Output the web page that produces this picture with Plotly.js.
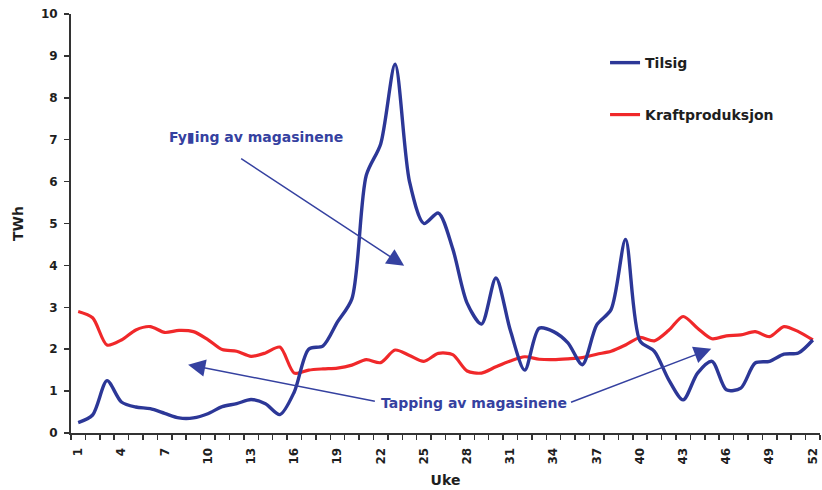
<!DOCTYPE html>
<html>
<head>
<meta charset="utf-8">
<script src="https://cdn.plot.ly/plotly-3.0.1.min.js"></script>
<style>html,body{margin:0;padding:0;background:#fff;}</style>
</head>
<body>
<div id="chart" style="width:822px;height:490px;"></div>
<script>
// Weeks (Uke)
const weeks = [1,2,3,4,5,6,7,8,9,10,11,12,13,14,15,16,17,18,19,20,21,22,23,24,25,26,
               27,28,29,30,31,32,33,34,35,36,37,38,39,40,41,42,43,44,45,46,47,48,49,50,51,52];
// Tilsig (TWh)
const tilsig = [0.25,0.43,1.25,0.74,0.62,0.58,0.47,0.36,0.36,0.46,0.63,0.70,0.80,0.70,0.44,0.98,
                2.00,2.08,2.65,3.20,6.15,6.90,8.80,6.00,5.00,5.25,4.40,3.10,2.60,3.70,2.45,1.50,
                2.50,2.42,2.15,1.63,2.58,2.95,4.62,2.20,1.95,1.27,0.79,1.43,1.71,1.03,1.07,1.67,
                1.71,1.88,1.91,2.22];
// Kraftproduksjon (TWh)
const kraftproduksjon = [2.90,2.75,2.10,2.22,2.46,2.54,2.40,2.45,2.42,2.23,1.99,1.95,1.83,1.91,2.05,1.43,
                         1.50,1.53,1.55,1.62,1.75,1.68,1.98,1.85,1.71,1.90,1.87,1.48,1.43,1.58,1.72,1.82,
                         1.76,1.75,1.77,1.80,1.88,1.95,2.10,2.28,2.20,2.45,2.78,2.50,2.25,2.32,2.34,2.42,
                         2.30,2.54,2.42,2.22];
const weekTickVals = [1,4,7,10,13,16,19,22,25,28,31,34,37,40,43,46,49,52];
const weekTickText = weekTickVals.map(String);
const yTickVals = [0,1,2,3,4,5,6,7,8,9,10];

const FONT = 'DejaVu Sans, Arial, sans-serif';
const TXT = '#1e1e1e';
const ANN = '#3541a0';

const traces = [
  {x: weeks, y: kraftproduksjon, type: 'scatter', mode: 'lines', name: 'Kraftproduksjon',
   line: {color: '#f0282a', width: 3.2, shape: 'spline', smoothing: 0.8}, legend: 'legend2'},
  {x: weeks, y: tilsig, type: 'scatter', mode: 'lines', name: 'Tilsig',
   line: {color: '#2c3797', width: 3.4, shape: 'spline', smoothing: 0.8}, legend: 'legend'}
];

const layout = {
  width: 822, height: 490,
  margin: {l: 71, r: 2, t: 14, b: 57},
  paper_bgcolor: '#fff', plot_bgcolor: '#fff',
  xaxis: {
    range: [0.5, 52.5], tickmode: 'array', tickvals: weekTickVals, ticktext: weekTickText,
    tickangle: -90, ticks: '', ticklabelstandoff: 8, ticklabeloverflow: 'allow',
    showline: true, linecolor: '#333', linewidth: 2, showgrid: false, zeroline: false,
    tickfont: {family: FONT, size: 12, weight: 'bold', color: TXT},
    minor: {tickmode: 'linear', tick0: 0.5, dtick: 1, ticks: 'outside', ticklen: 5,
            tickcolor: '#333', tickwidth: 1.5, showgrid: false},
    title: {text: 'Uke', font: {family: FONT, size: 14, weight: 'bold', color: TXT}, standoff: 12}
  },
  yaxis: {
    range: [0, 10], tickmode: 'array', tickvals: yTickVals, ticks: 'outside', ticklen: 5,
    tickwidth: 1.5, tickcolor: '#333', ticklabelstandoff: 4,
    showline: true, linecolor: '#333', linewidth: 2, showgrid: false, zeroline: false,
    tickfont: {family: FONT, size: 12, weight: 'bold', color: TXT},
    title: {text: 'TWh', font: {family: FONT, size: 14, weight: 'bold', color: TXT}, standoff: 14}
  },
  showlegend: true,
  legend: {x: 0.713, y: 0.883, xanchor: 'left', yanchor: 'middle', bgcolor: 'rgba(0,0,0,0)',
           font: {family: FONT, size: 14, weight: 'bold', color: TXT}},
  legend2: {x: 0.713, y: 0.759, xanchor: 'left', yanchor: 'middle', bgcolor: 'rgba(0,0,0,0)',
            font: {family: FONT, size: 14, weight: 'bold', color: TXT}},
  annotations: [
    {x: 13.31, y: 7.07, xref: 'x', yref: 'y', text: 'Fy\u25AEing av magasinene', showarrow: false,
     font: {family: FONT, size: 14, weight: 'bold', color: ANN}},
    {x: 28.51, y: 0.72, xref: 'x', yref: 'y', text: 'Tapping av magasinene', showarrow: false,
     font: {family: FONT, size: 14, weight: 'bold', color: ANN}},
    {x: 23.63, y: 3.99, ax: 12.21, ay: 6.57, xref: 'x', yref: 'y', axref: 'x', ayref: 'y',
     text: '', showarrow: true, arrowhead: 2, arrowsize: 2.3, arrowwidth: 1.5, arrowcolor: ANN},
    {x: 8.63, y: 1.63, ax: 21.70, ay: 0.75, xref: 'x', yref: 'y', axref: 'x', ayref: 'y',
     text: '', showarrow: true, arrowhead: 2, arrowsize: 2.3, arrowwidth: 1.5, arrowcolor: ANN},
    {x: 44.95, y: 2.01, ax: 35.11, ay: 0.72, xref: 'x', yref: 'y', axref: 'x', ayref: 'y',
     text: '', showarrow: true, arrowhead: 2, arrowsize: 2.3, arrowwidth: 1.5, arrowcolor: ANN}
  ]
};

Plotly.newPlot('chart', traces, layout, {displayModeBar: false, staticPlot: true});
</script>
</body>
</html>
